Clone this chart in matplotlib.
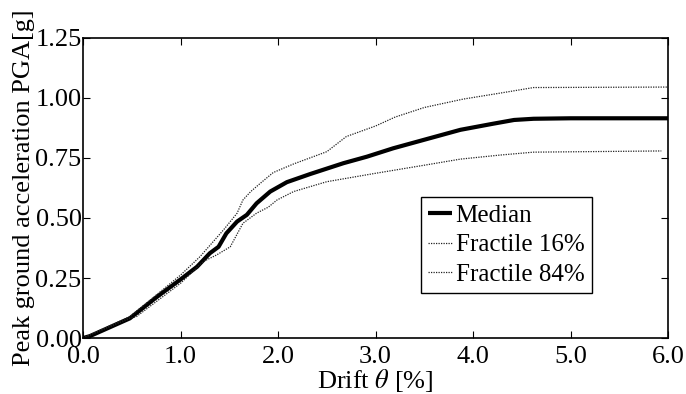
import matplotlib
matplotlib.use('Agg')
import matplotlib.pyplot as plt

plt.rcParams['font.family'] = ['Liberation Serif', 'DejaVu Serif']
plt.rcParams['mathtext.fontset'] = 'stix'

# median curve
med_x = [0, 0.07, 0.48, 0.76, 1.0, 1.17, 1.3, 1.39, 1.47, 1.58, 1.68, 1.78, 1.92,
         2.09, 2.33, 2.67, 2.91, 3.18, 3.52, 3.87, 4.2, 4.42, 4.62, 5.0, 6.0]
med_y = [0, 0.008, 0.082, 0.172, 0.244, 0.297, 0.353, 0.38, 0.436, 0.485, 0.513, 0.561, 0.61,
         0.649, 0.683, 0.728, 0.755, 0.79, 0.828, 0.867, 0.892, 0.908, 0.913, 0.915, 0.915]

# lower fractile
f16_x = [0, 0.48, 0.55, 1.0, 1.23, 1.37, 1.51, 1.64, 1.78, 1.9, 1.99, 2.16, 2.5,
         3.0, 3.52, 3.87, 4.28, 4.62, 5.93]
f16_y = [0, 0.082, 0.09, 0.228, 0.318, 0.346, 0.38, 0.478, 0.52, 0.545, 0.575, 0.61, 0.651,
         0.686, 0.721, 0.745, 0.762, 0.774, 0.779]

# upper fractile
f84_x = [0, 0.48, 1.0, 1.2, 1.44, 1.58, 1.64, 1.72, 1.82, 1.95, 2.16, 2.5, 2.7,
         3.0, 3.2, 3.5, 3.9, 4.28, 4.62, 6.0]
f84_y = [0, 0.089, 0.262, 0.339, 0.45, 0.52, 0.575, 0.61, 0.645, 0.689, 0.725, 0.776, 0.839,
         0.883, 0.92, 0.96, 0.995, 1.02, 1.043, 1.045]

xticks = [0, 1, 2, 3, 4, 5, 6]
yticks = [0, 0.25, 0.5, 0.75, 1.0, 1.25]

fig = plt.figure(figsize=(6.86, 3.94), dpi=100)
ax = fig.add_axes([0.121, 0.142, 0.853, 0.762])

ax.plot(med_x, med_y, color='black', lw=3.0, label='Median', solid_capstyle='butt')
ax.plot(f16_x, f16_y, color='#222222', lw=0.9, ls=(0, (1, 1)), label='Fractile 16%')
ax.plot(f84_x, f84_y, color='#222222', lw=0.9, ls=(0, (1, 1)), label='Fractile 84%')

ax.set_xlim(0, 6)
ax.set_ylim(0, 1.25)
ax.set_xticks(xticks)
ax.set_xticklabels([f'{t:.1f}' for t in xticks])
ax.set_yticks(yticks)
ax.set_yticklabels([f'{t:.2f}' for t in yticks])
ax.tick_params(direction='in', top=True, right=True, length=5, width=0.8, labelsize=19)
ax.tick_params(axis='x', pad=6)
ax.tick_params(axis='y', pad=1)
for s in ax.spines.values():
    s.set_linewidth(1.2)

ax.set_xlabel(r'Drift $\theta$ [%]', fontsize=19)
ax.xaxis.set_label_coords(0.5, -0.095)
ax.set_ylabel('Peak ground acceleration PGA[g]', fontsize=19, labelpad=0)

leg = ax.legend(loc='lower left', bbox_to_anchor=(0.577, 0.15), fontsize=18,
                handlelength=0.95, handletextpad=0.15, labelspacing=0.27,
                borderpad=0.3, borderaxespad=0, fancybox=False, framealpha=1)
leg.get_frame().set_edgecolor('black')
leg.get_frame().set_linewidth(1.0)

plt.savefig('out.png', dpi=100)
